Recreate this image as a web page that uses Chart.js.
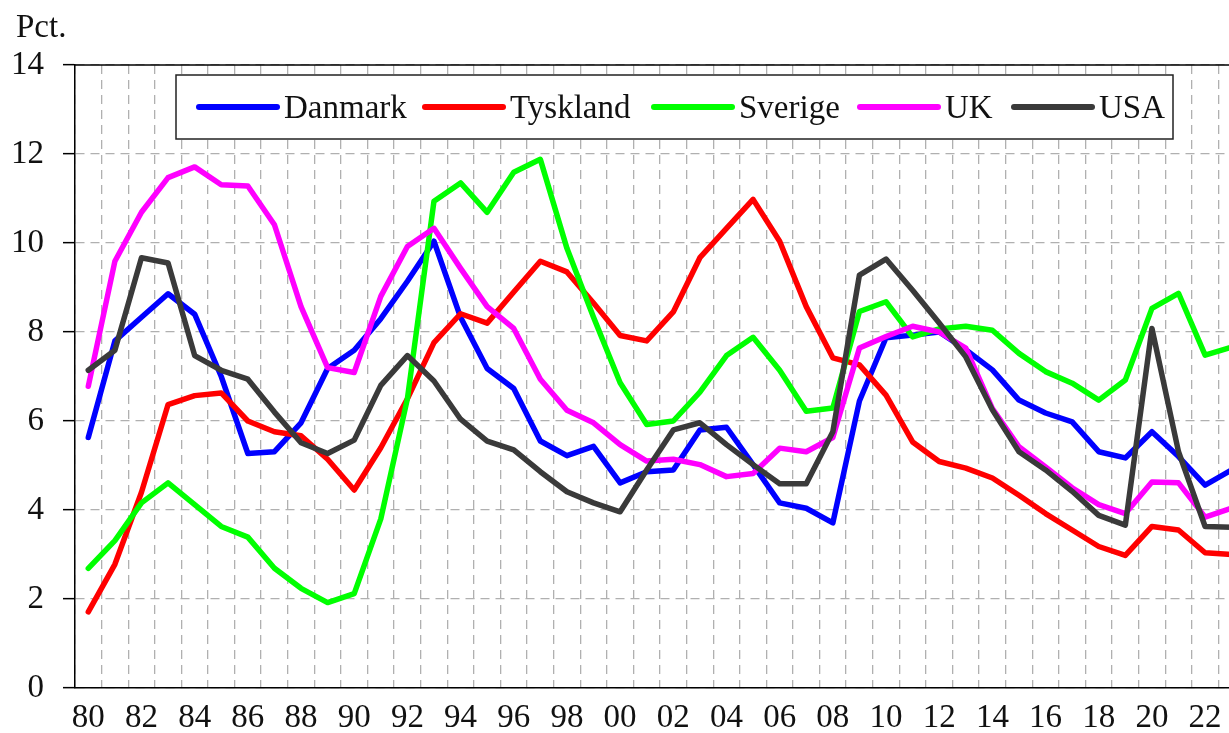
<!DOCTYPE html>
<html lang="da">
<head>
<meta charset="UTF-8">
<title>Pct.</title>
<script src="https://cdn.jsdelivr.net/npm/chart.js@4.4.1/dist/chart.umd.min.js"></script>
<style>
  html, body { margin: 0; padding: 0; background: #fff; overflow: hidden; }
  #wrap { width: 1246px; height: 733px; }
</style>
</head>
<body>
<div id="wrap"><canvas id="grafik" width="1246" height="733"></canvas></div>
<script>
// år 1980-2023, vist som tocifrede labels
const aar = ['80','81','82','83','84','85','86','87','88','89',
             '90','91','92','93','94','95','96','97','98','99',
             '00','01','02','03','04','05','06','07','08','09',
             '10','11','12','13','14','15','16','17','18','19',
             '20','21','22','23'];

const danmark = [5.63, 7.8, 8.33, 8.86, 8.4, 7.0, 5.27, 5.31, 5.96, 7.18,
                 7.59, 8.3, 9.14, 10.04, 8.33, 7.18, 6.73, 5.55, 5.22, 5.43,
                 4.61, 4.86, 4.9, 5.8, 5.86, 5.02, 4.16, 4.04, 3.71, 6.45,
                 7.87, 7.93, 8.0, 7.6, 7.15, 6.47, 6.18, 5.98, 5.31, 5.17,
                 5.76, 5.2, 4.56, 4.9];

const tyskland = [1.71, 2.78, 4.4, 6.37, 6.57, 6.63, 6.0, 5.76, 5.67, 5.14,
                  4.45, 5.4, 6.5, 7.76, 8.41, 8.2, 8.9, 9.59, 9.35, 8.65,
                  7.92, 7.8, 8.45, 9.67, 10.33, 10.98, 10.04, 8.57, 7.42, 7.26,
                  6.58, 5.53, 5.09, 4.94, 4.72, 4.33, 3.92, 3.55, 3.18, 2.98,
                  3.63, 3.55, 3.04, 3.0];

const sverige = [2.69, 3.31, 4.16, 4.61, 4.12, 3.63, 3.39, 2.69, 2.24, 1.92,
                 2.12, 3.8, 6.5, 10.94, 11.35, 10.69, 11.59, 11.88, 9.88, 8.33,
                 6.86, 5.92, 6.0, 6.65, 7.47, 7.88, 7.14, 6.22, 6.29, 8.46,
                 8.68, 7.89, 8.07, 8.13, 8.04, 7.52, 7.11, 6.85, 6.47, 6.92,
                 8.53, 8.87, 7.48, 7.66];

const uk = [6.78, 9.59, 10.69, 11.47, 11.71, 11.31, 11.28, 10.41, 8.57, 7.2,
            7.09, 8.8, 9.92, 10.33, 9.43, 8.57, 8.08, 6.94, 6.24, 5.96,
            5.47, 5.1, 5.14, 5.02, 4.75, 4.82, 5.39, 5.31, 5.63, 7.64,
            7.9, 8.13, 8.0, 7.64, 6.28, 5.42, 4.97, 4.5, 4.12, 3.92,
            4.63, 4.61, 3.84, 4.04];

const usa = [7.14, 7.59, 9.67, 9.55, 7.47, 7.14, 6.94, 6.2, 5.51, 5.27,
             5.57, 6.8, 7.47, 6.9, 6.04, 5.55, 5.35, 4.86, 4.41, 4.16,
             3.96, 4.9, 5.8, 5.96, 5.47, 5.02, 4.59, 4.59, 5.76, 9.28,
             9.64, 8.94, 8.2, 7.44, 6.25, 5.31, 4.9, 4.42, 3.88, 3.66,
             8.08, 5.31, 3.63, 3.61];

const yTicks = [0, 2, 4, 6, 8, 10, 12, 14];

const skrift = '"Liberation Serif", "Times New Roman", serif';
const gitterGraa = '#b0b0b0';

function serie(navn, data, farve, lag) {
  return {
    label: navn,
    data: data,
    borderColor: farve,
    backgroundColor: farve,
    borderWidth: 5.5,
    borderJoinStyle: 'round',
    borderCapStyle: 'round',
    pointRadius: 0,
    tension: 0,
    fill: false,
    order: lag
  };
}

// tegner "Pct.", topkanten og legendeboksen
const pynt = {
  id: 'pynt',
  afterDraw(chart) {
    const ctx = chart.ctx;
    const a = chart.chartArea;
    ctx.save();

    ctx.strokeStyle = '#000';
    ctx.lineWidth = 1.5;
    ctx.beginPath();
    ctx.moveTo(a.left, a.top);
    ctx.lineTo(a.right, a.top);
    ctx.stroke();

    ctx.font = '33px ' + skrift;
    ctx.fillStyle = '#111';
    ctx.textBaseline = 'alphabetic';
    ctx.textAlign = 'left';
    ctx.fillText('Pct.', 16, 37);

    // legende
    const bx = 176, by = 75, bw = 997, bh = 64;
    ctx.fillStyle = '#fff';
    ctx.fillRect(bx, by, bw, bh);
    ctx.strokeStyle = '#222';
    ctx.lineWidth = 1.5;
    ctx.strokeRect(bx, by, bw, bh);

    const midt = by + 32;
    const start = [199, 425, 654, 860, 1014];
    ctx.textBaseline = 'middle';
    chart.data.datasets.forEach((d, i) => {
      const x = start[i];
      ctx.strokeStyle = d.borderColor;
      ctx.lineWidth = 6;
      ctx.lineCap = 'round';
      ctx.beginPath();
      ctx.moveTo(x, midt);
      ctx.lineTo(x + 78, midt);
      ctx.stroke();
      ctx.fillStyle = '#111';
      ctx.fillText(d.label, x + 85, midt + 2);
    });
    ctx.restore();
  }
};

new Chart(document.getElementById('grafik'), {
  type: 'line',
  data: {
    labels: aar,
    datasets: [
      serie('Danmark', danmark, '#0000ff', 5),
      serie('Tyskland', tyskland, '#ff0000', 4),
      serie('Sverige', sverige, '#00ff00', 3),
      serie('UK', uk, '#ff00ff', 2),
      serie('USA', usa, '#3a3a3a', 1)
    ]
  },
  options: {
    responsive: false,
    animation: false,
    layout: { padding: { top: 65, right: 1, bottom: 0, left: 0 } },
    plugins: {
      legend: { display: false },
      tooltip: { enabled: false }
    },
    scales: {
      x: {
        offset: true,
        grid: {
          offset: true,
          color: gitterGraa,
          lineWidth: 1.3,
          drawTicks: false
        },
        border: { display: true, color: '#000', width: 1.5, dash: [9, 6] },
        ticks: {
          autoSkip: false,
          maxRotation: 0,
          minRotation: 0,
          padding: 11,
          color: '#111',
          font: { family: skrift, size: 33 },
          callback: function (v, i) { return i % 2 === 0 ? this.getLabelForValue(v) : ''; }
        },
        afterFit(scale) { scale.height = 45; }
      },
      y: {
        min: 0,
        max: 14,
        afterBuildTicks(scale) { scale.ticks = yTicks.map(v => ({ value: v })); },
        grid: {
          color: gitterGraa,
          lineWidth: 1.3,
          drawTicks: true,
          tickLength: 12,
          tickColor: '#000',
          tickWidth: 1.5
        },
        border: { display: true, color: '#000', width: 1.5, dash: [9, 6] },
        ticks: {
          padding: 19,
          color: '#111',
          font: { family: skrift, size: 33 }
        },
        afterFit(scale) { scale.width = 75; }
      }
    }
  },
  plugins: [pynt]
});
</script>
</body>
</html>
